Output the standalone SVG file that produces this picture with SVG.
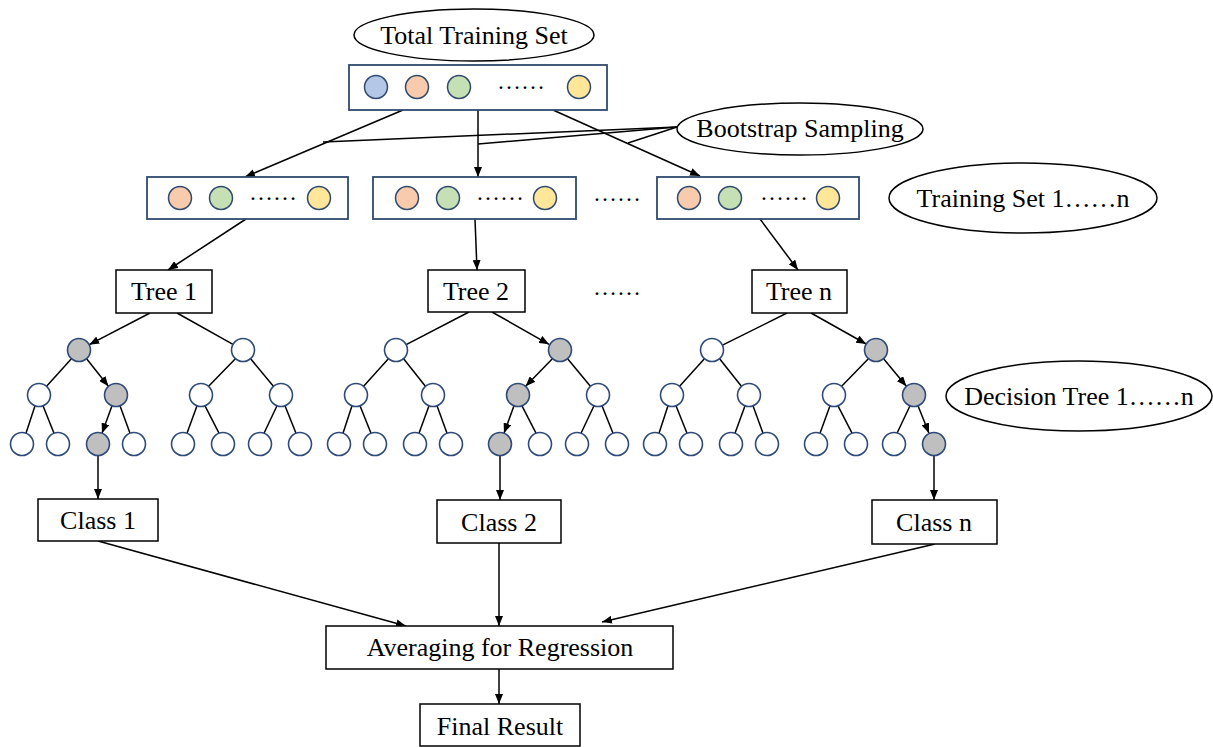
<svg xmlns="http://www.w3.org/2000/svg" width="1213" height="747" viewBox="0 0 1213 747">
<defs>
<marker id="arr" viewBox="0 0 10 8" refX="10" refY="4" markerWidth="10" markerHeight="8" markerUnits="userSpaceOnUse" orient="auto">
<path d="M0,0 L10,4 L0,8 z" fill="#000"/>
</marker>
<style>
text{font-family:"Liberation Serif","Times New Roman",serif;font-size:26px;fill:#000;text-anchor:middle}
.dots{font-size:24px}
.ell{fill:#fff;stroke:#000;stroke-width:1.5}
.box{fill:#fff;stroke:#000;stroke-width:1.5}
.set{fill:#fff;stroke:#2F4A6E;stroke-width:1.8}
.b{fill:#B4C7E7;stroke:#2F4A6E;stroke-width:1.5}
.o{fill:#F8CBAD;stroke:#2F4A6E;stroke-width:1.5}
.g{fill:#C5E0B4;stroke:#2F4A6E;stroke-width:1.5}
.y{fill:#FFE699;stroke:#2F4A6E;stroke-width:1.5}
.w{fill:#fff;stroke:#2E4A7A;stroke-width:1.6}
.k{fill:#BFBFBF;stroke:#2E4A7A;stroke-width:1.6}
#connectors line,#connectors polyline{stroke:#000;stroke-width:1.5;fill:none}
.a{marker-end:url(#arr)}
</style>
</defs>
<rect width="1213" height="747" fill="#fff"/>

<g id="connectors">
<!-- total set to training sets -->
<line class="a" x1="403" y1="110" x2="245" y2="177"/>
<line class="a" x1="478" y1="110" x2="478" y2="177"/>
<line class="a" x1="553" y1="110" x2="700" y2="176"/>
<!-- bootstrap lines -->
<line x1="677" y1="127" x2="323" y2="142"/>
<line x1="677" y1="127" x2="478" y2="144"/>
<line x1="677" y1="127" x2="628" y2="143"/>
<!-- training sets to trees -->
<line class="a" x1="246" y1="219" x2="168" y2="270"/>
<line class="a" x1="475" y1="219" x2="477" y2="270"/>
<line class="a" x1="760" y1="219" x2="798" y2="270"/>
<!-- tree boxes to first level -->
<line class="a" x1="150" y1="313" x2="89.2" y2="344.7"/>
<line x1="177" y1="313" x2="233" y2="344.4"/>
<line x1="469" y1="312" x2="406.2" y2="344.7"/>
<line class="a" x1="492" y1="312" x2="549" y2="344.3"/>
<line x1="787" y1="313" x2="722.5" y2="345.2"/>
<line class="a" x1="811" y1="313" x2="866.2" y2="344"/>
<!-- Tree 1 edges -->
<line x1="71.4" y1="358.7" x2="46.6" y2="386.3"/>
<line class="a" x1="86.6" y1="358.7" x2="108.4" y2="386.3"/>
<line x1="235.4" y1="358.7" x2="208.6" y2="386.3"/>
<line x1="250.6" y1="358.7" x2="273.4" y2="386.3"/>
<line x1="35" y1="405.8" x2="26" y2="433.2"/>
<line x1="43" y1="405.8" x2="54" y2="433.2"/>
<line class="a" x1="112" y1="405.8" x2="102" y2="433.2"/>
<line x1="120" y1="405.8" x2="130" y2="433.2"/>
<line x1="197" y1="405.8" x2="187" y2="433.2"/>
<line x1="205" y1="405.8" x2="219" y2="433.2"/>
<line x1="277" y1="405.8" x2="264" y2="433.2"/>
<line x1="285" y1="405.8" x2="296" y2="433.2"/>
<!-- Tree 2 edges -->
<line x1="388.4" y1="358.7" x2="363.6" y2="386.3"/>
<line x1="403.6" y1="358.7" x2="425.4" y2="386.3"/>
<line class="a" x1="552.4" y1="358.7" x2="525.6" y2="386.3"/>
<line x1="567.6" y1="358.7" x2="590.4" y2="386.3"/>
<line x1="352" y1="405.8" x2="343" y2="433.2"/>
<line x1="360" y1="405.8" x2="371" y2="433.2"/>
<line x1="429" y1="405.8" x2="419" y2="433.2"/>
<line x1="437" y1="405.8" x2="447" y2="433.2"/>
<line class="a" x1="514" y1="405.8" x2="504" y2="433.2"/>
<line x1="522" y1="405.8" x2="536" y2="433.2"/>
<line x1="594" y1="405.8" x2="581" y2="433.2"/>
<line x1="602" y1="405.8" x2="613" y2="433.2"/>
<!-- Tree n edges -->
<line x1="704.4" y1="358.7" x2="679.6" y2="386.3"/>
<line x1="719.6" y1="358.7" x2="741.4" y2="386.3"/>
<line x1="868.4" y1="358.7" x2="841.6" y2="386.3"/>
<line class="a" x1="883.6" y1="358.7" x2="906.4" y2="386.3"/>
<line x1="668" y1="405.8" x2="659" y2="433.2"/>
<line x1="676" y1="405.8" x2="687" y2="433.2"/>
<line x1="745" y1="405.8" x2="735" y2="433.2"/>
<line x1="753" y1="405.8" x2="763" y2="433.2"/>
<line x1="830" y1="405.8" x2="820" y2="433.2"/>
<line x1="838" y1="405.8" x2="852" y2="433.2"/>
<line x1="910" y1="405.8" x2="897" y2="433.2"/>
<line class="a" x1="918" y1="405.8" x2="929" y2="433.2"/>
<!-- leaves to classes -->
<line class="a" x1="98" y1="455.5" x2="98" y2="499"/>
<line class="a" x1="500" y1="455.5" x2="500" y2="500"/>
<line class="a" x1="934" y1="455.5" x2="934" y2="500"/>
<!-- classes to averaging -->
<line class="a" x1="98" y1="541" x2="406" y2="626"/>
<line class="a" x1="499" y1="543" x2="499" y2="626"/>
<line class="a" x1="935" y1="544" x2="602" y2="622"/>
<line class="a" x1="499" y1="669" x2="499" y2="704"/>
</g>

<g id="total-training-set">
<ellipse class="ell" cx="474" cy="35" rx="120" ry="26"/>
<text x="474" y="44">Total Training Set</text>
</g>
<g id="total-set-box">
<rect class="set" x="349" y="65" width="258" height="45"/>
<circle class="b" cx="376" cy="87" r="11.5"/>
<circle class="o" cx="417" cy="87" r="11.5"/>
<circle class="g" cx="459" cy="87" r="11.5"/>
<text class="dots" x="521" y="89">……</text>
<circle class="y" cx="579" cy="87" r="11.5"/>
</g>
<g id="bootstrap-sampling">
<ellipse class="ell" cx="800" cy="129" rx="123" ry="26"/>
<text x="800" y="137">Bootstrap Sampling</text>
</g>
<g id="training-set-1">
<rect class="set" x="147" y="177" width="201" height="42"/>
<circle class="o" cx="180" cy="198" r="11.5"/>
<circle class="g" cx="221" cy="198" r="11.5"/>
<text class="dots" x="273" y="200">……</text>
<circle class="y" cx="319" cy="198" r="11.5"/>
</g>
<g id="training-set-2">
<rect class="set" x="373" y="177" width="203" height="42"/>
<circle class="o" cx="407" cy="198" r="11.5"/>
<circle class="g" cx="448" cy="198" r="11.5"/>
<text class="dots" x="500" y="200">……</text>
<circle class="y" cx="545" cy="198" r="11.5"/>
</g>
<g id="training-set-gap">
<text class="dots" x="617" y="201">……</text>
</g>
<g id="training-set-n">
<rect class="set" x="657" y="177" width="202" height="42"/>
<circle class="o" cx="689" cy="198" r="11.5"/>
<circle class="g" cx="730" cy="198" r="11.5"/>
<text class="dots" x="784" y="200">……</text>
<circle class="y" cx="828" cy="198" r="11.5"/>
</g>
<g id="training-set-label">
<ellipse class="ell" cx="1023" cy="198" rx="134" ry="35"/>
<text x="1023" y="207">Training Set 1……n</text>
</g>

<g id="tree-1">
<rect class="box" x="116" y="270" width="96" height="43"/>
<text x="164" y="300">Tree 1</text>
</g>
<g id="tree-2">
<rect class="box" x="428" y="270" width="97" height="42"/>
<text x="476" y="300">Tree 2</text>
</g>
<g id="tree-gap">
<text class="dots" x="617" y="295">……</text>
</g>
<g id="tree-n">
<rect class="box" x="752" y="270" width="95" height="43"/>
<text x="799" y="300">Tree n</text>
</g>

<g id="decision-tree-1">
<circle class="k" cx="79" cy="350" r="11.5"/>
<circle class="w" cx="243" cy="350" r="11.5"/>
<circle class="w" cx="39" cy="395" r="11.5"/>
<circle class="k" cx="116" cy="395" r="11.5"/>
<circle class="w" cx="201" cy="395" r="11.5"/>
<circle class="w" cx="281" cy="395" r="11.5"/>
<circle class="w" cx="22" cy="444" r="11.5"/>
<circle class="w" cx="58" cy="444" r="11.5"/>
<circle class="k" cx="98" cy="444" r="11.5"/>
<circle class="w" cx="134" cy="444" r="11.5"/>
<circle class="w" cx="183" cy="444" r="11.5"/>
<circle class="w" cx="223" cy="444" r="11.5"/>
<circle class="w" cx="260" cy="444" r="11.5"/>
<circle class="w" cx="300" cy="444" r="11.5"/>
</g>
<g id="decision-tree-2">
<circle class="w" cx="396" cy="350" r="11.5"/>
<circle class="k" cx="560" cy="350" r="11.5"/>
<circle class="w" cx="356" cy="395" r="11.5"/>
<circle class="w" cx="433" cy="395" r="11.5"/>
<circle class="k" cx="518" cy="395" r="11.5"/>
<circle class="w" cx="598" cy="395" r="11.5"/>
<circle class="w" cx="339" cy="444" r="11.5"/>
<circle class="w" cx="375" cy="444" r="11.5"/>
<circle class="w" cx="415" cy="444" r="11.5"/>
<circle class="w" cx="451" cy="444" r="11.5"/>
<circle class="k" cx="500" cy="444" r="11.5"/>
<circle class="w" cx="540" cy="444" r="11.5"/>
<circle class="w" cx="577" cy="444" r="11.5"/>
<circle class="w" cx="617" cy="444" r="11.5"/>
</g>
<g id="decision-tree-n">
<circle class="w" cx="712" cy="350" r="11.5"/>
<circle class="k" cx="876" cy="350" r="11.5"/>
<circle class="w" cx="672" cy="395" r="11.5"/>
<circle class="w" cx="749" cy="395" r="11.5"/>
<circle class="w" cx="834" cy="395" r="11.5"/>
<circle class="k" cx="914" cy="395" r="11.5"/>
<circle class="w" cx="655" cy="444" r="11.5"/>
<circle class="w" cx="691" cy="444" r="11.5"/>
<circle class="w" cx="731" cy="444" r="11.5"/>
<circle class="w" cx="767" cy="444" r="11.5"/>
<circle class="w" cx="816" cy="444" r="11.5"/>
<circle class="w" cx="856" cy="444" r="11.5"/>
<circle class="w" cx="894" cy="444" r="11.5"/>
<circle class="k" cx="934" cy="444" r="11.5"/>
</g>
<g id="decision-tree-label">
<ellipse class="ell" cx="1079" cy="396" rx="133" ry="35"/>
<text x="1079" y="405">Decision Tree 1……n</text>
</g>

<g id="class-1">
<rect class="box" x="38" y="499" width="120" height="42"/>
<text x="98" y="529">Class 1</text>
</g>
<g id="class-2">
<rect class="box" x="437" y="500" width="124" height="43"/>
<text x="499" y="531">Class 2</text>
</g>
<g id="class-n">
<rect class="box" x="872" y="500" width="125" height="44"/>
<text x="934" y="531">Class n</text>
</g>
<g id="averaging">
<rect class="box" x="326" y="626" width="347" height="43"/>
<text x="500" y="656">Averaging for Regression</text>
</g>
<g id="final-result">
<rect class="box" x="420" y="704" width="160" height="42"/>
<text x="500" y="735">Final Result</text>
</g>
</svg>
